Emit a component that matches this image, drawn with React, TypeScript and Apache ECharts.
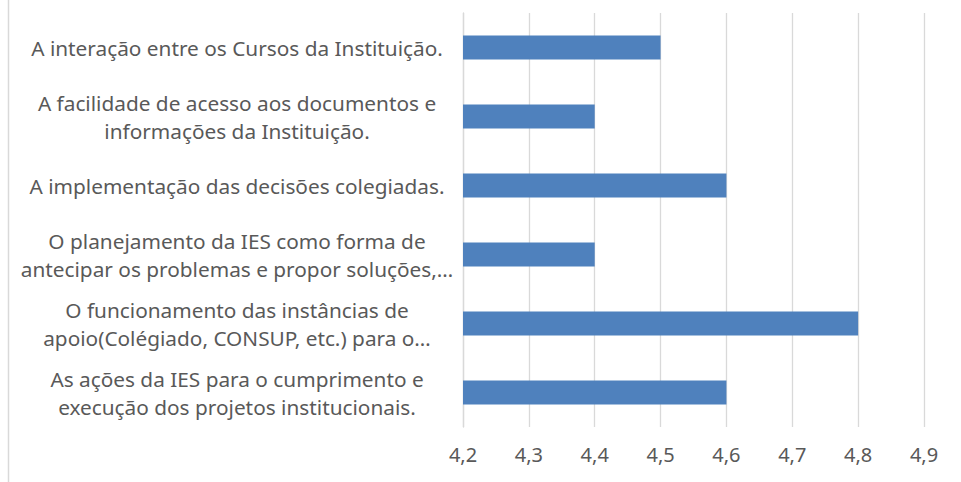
import React, { useEffect, useRef } from "react";
import * as echarts from "echarts";

const categories: string[] = [
  "A interação entre os Cursos da Instituição.",
  "A facilidade de acesso aos documentos e\ninformações da Instituição.",
  "A implementação das decisões colegiadas.",
  "O planejamento da IES como forma de\nantecipar os problemas e propor soluções,…",
  "O funcionamento das instâncias de\napoio(Colégiado, CONSUP, etc.) para o…",
  "As ações da IES para o cumprimento e\nexecução dos projetos institucionais.",
];
const values: number[] = [4.5, 4.4, 4.6, 4.4, 4.8, 4.6];
const xMin = 4.2;
const xMax = 4.9;
const xStep = 0.1;

export default function App() {
  const ref = useRef<HTMLDivElement>(null);
  useEffect(() => {
    if (!ref.current) return;
    const chart = echarts.init(ref.current, undefined, { renderer: "svg" });
    const font = "'Noto Sans', 'Open Sans', sans-serif";
    chart.setOption({
      animation: false,
      backgroundColor: "#ffffff",
      grid: { left: 463, right: 37, top: 13, bottom: 55, containLabel: false },
      graphic: [
        {
          type: "line",
          shape: { x1: 8.5, y1: 0, x2: 8.5, y2: 482 },
          style: { stroke: "#d9d9d9", lineWidth: 1.5 },
        },
      ],
      xAxis: {
        type: "value",
        min: xMin,
        max: xMax,
        interval: xStep,
        axisLine: { show: false },
        axisTick: { show: false },
        splitLine: { show: true, lineStyle: { color: "#d9d9d9", width: 1.3 } },
        axisLabel: {
          color: "#595959",
          fontFamily: font,
          fontSize: 20,
          margin: 17,
          formatter: (v: number) => v.toFixed(1).replace(".", ","),
        },
      },
      yAxis: {
        type: "category",
        data: categories,
        inverse: true,
        axisLine: { show: true, lineStyle: { color: "#d9d9d9", width: 1.3 } },
        axisTick: { show: false },
        axisLabel: {
          color: "#595959",
          fontFamily: font,
          fontSize: 20.8,
          lineHeight: 28,
          align: "center",
          margin: 226,
        },
      },
      series: [
        {
          type: "bar",
          data: values,
          barWidth: 24,
          itemStyle: { color: "#4f81bd" },
        },
      ],
    });
    return () => chart.dispose();
  }, []);
  return (
    <div
      ref={ref}
      style={{ position: "absolute", left: 0, top: 0, width: 961, height: 482 }}
    />
  );
}
